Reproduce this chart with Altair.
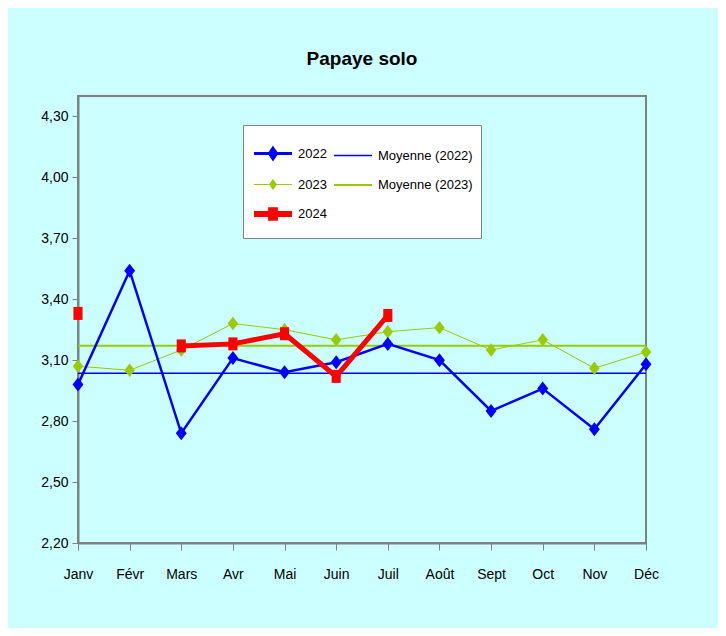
import altair as alt
import pandas as pd

# ---- données ----
mois = ["Janv", "Févr", "Mars", "Avr", "Mai", "Juin", "Juil", "Août", "Sept", "Oct", "Nov", "Déc"]
prix_2022 = [2.98, 3.54, 2.74, 3.11, 3.04, 3.09, 3.18, 3.10, 2.85, 2.96, 2.76, 3.08]
prix_2023 = [3.07, 3.05, 3.15, 3.28, 3.25, 3.20, 3.24, 3.26, 3.15, 3.20, 3.06, 3.14]
prix_2024 = [3.33, None, 3.17, 3.18, 3.23, 3.02, 3.32, None, None, None, None, None]
graduations_y = [2.2, 2.5, 2.8, 3.1, 3.4, 3.7, 4.0, 4.3]
series_legende = ["2022", "2023", "2024", "Moyenne (2022)", "Moyenne (2023)"]

BLEU = "#0000FF"
VERT = "#99CC00"
ROUGE = "#FF0000"
GRIS = "#808080"
POLICE = "Liberation Sans, Arial, sans-serif"

couleurs_legende = [BLEU, VERT, ROUGE, BLEU, VERT]
formes_legende = [
    "M-1,0H1M0,-0.28L0.19,0L0,0.28L-0.19,0Z",
    "M-1,0H1M0,-0.26L0.18,0L0,0.26L-0.18,0Z",
    "M-1,0H1M-0.1,-0.2H0.1V0.2H-0.1Z",
    "M-1,0H1",
    "M-1,0H1",
]
epaisseurs_legende = [3, 1, 6, 1.5, 2]

frames = []
for annee, valeurs in (("2022", prix_2022), ("2023", prix_2023), ("2024", prix_2024)):
    frames.append(pd.DataFrame({"mois": mois, "annee": annee, "prix": valeurs}))
df = pd.concat(frames, ignore_index=True)
df["prix"] = pd.to_numeric(df["prix"])

x_enc = alt.X(
    "mois:N",
    sort=mois,
    scale=alt.Scale(type="point", domain=mois, padding=0),
    axis=alt.Axis(
        title=None, labelAngle=0, labelFontSize=14, labelFont=POLICE, labelColor="black",
        tickSize=7, labelPadding=17, tickColor=GRIS, domainColor=GRIS, domainWidth=2,
        grid=False,
    ),
)
y_enc = alt.Y(
    "prix:Q",
    scale=alt.Scale(domain=[2.2, 4.4], nice=False, zero=False),
    axis=alt.Axis(
        title=None, values=graduations_y,
        labelExpr="replace(format(datum.value, '.2f'), '.', ',')",
        labelFontSize=14, labelFont=POLICE, labelColor="black",
        tickSize=6, labelPadding=4, tickColor=GRIS, domainColor=GRIS, domainWidth=2,
        grid=False,
    ),
)

base = alt.Chart(df)

def moyenne(annee, couleur, largeur):
    return (
        base.transform_filter(alt.datum.annee == annee)
        .mark_rule(color=couleur, strokeWidth=largeur)
        .encode(y=alt.Y("mean(prix):Q"))
    )

def serie(annee, couleur, largeur, forme, taille):
    sel = base.transform_filter(alt.datum.annee == annee)
    ligne = sel.mark_line(color=couleur, strokeWidth=largeur, invalid="break-paths-show-domains").encode(x=x_enc, y=y_enc)
    points = (
        sel.transform_filter("isValid(datum.prix)")
        .mark_point(shape=forme, filled=True, color=couleur, size=taille, opacity=1)
        .encode(x=x_enc, y=y_enc)
    )
    return ligne + points

losange = "M0,-1L0.78,0L0,1L-0.78,0Z"
carre = "M-0.7,-1H0.7V1H-0.7Z"

legende = alt.Legend(
    title=None, orient="none", legendX=165, legendY=29, columns=2,
    symbolSize=1444, symbolOpacity=1, labelFont=POLICE, labelFontSize=13, labelColor="black",
    labelOffset=3, padding=8, rowPadding=-3, columnPadding=3,
    fillColor="white", strokeColor=GRIS,
)
couche_legende = (
    alt.Chart(pd.DataFrame({"serie": series_legende}))
    .mark_point(filled=True, opacity=0)
    .encode(
        color=alt.Color("serie:N", scale=alt.Scale(domain=series_legende, range=couleurs_legende), legend=legende),
        stroke=alt.Stroke("serie:N", scale=alt.Scale(domain=series_legende, range=couleurs_legende), legend=legende),
        shape=alt.Shape("serie:N", scale=alt.Scale(domain=series_legende, range=formes_legende), legend=legende),
        strokeWidth=alt.StrokeWidth(
            "serie:N", scale=alt.Scale(type="ordinal", domain=series_legende, range=epaisseurs_legende), legend=legende
        ),
    )
)

chart = (
    alt.layer(
        moyenne("2022", BLEU, 1.5),
        moyenne("2023", VERT, 2),
        serie("2023", VERT, 1, losange, 180),
        serie("2022", BLEU, 2.5, losange, 196),
        serie("2024", ROUGE, 5, carre, 169),
        couche_legende,
    )
    .properties(
        width=568,
        height=447,
        autosize=alt.AutoSizeParams(type="none"),
        padding={"left": 70, "top": 88, "right": 72, "bottom": 85},
        background="#CCFFFF",
        title=alt.TitleParams(
            "Papaye solo", fontSize=19, fontWeight="bold", font=POLICE, color="black",
            offset=27, anchor="middle",
        ),
    )
    .configure_view(fill="white", stroke=GRIS, strokeWidth=2)
)

chart.save("out.html", embed_options={"renderer": "svg", "actions": False})
